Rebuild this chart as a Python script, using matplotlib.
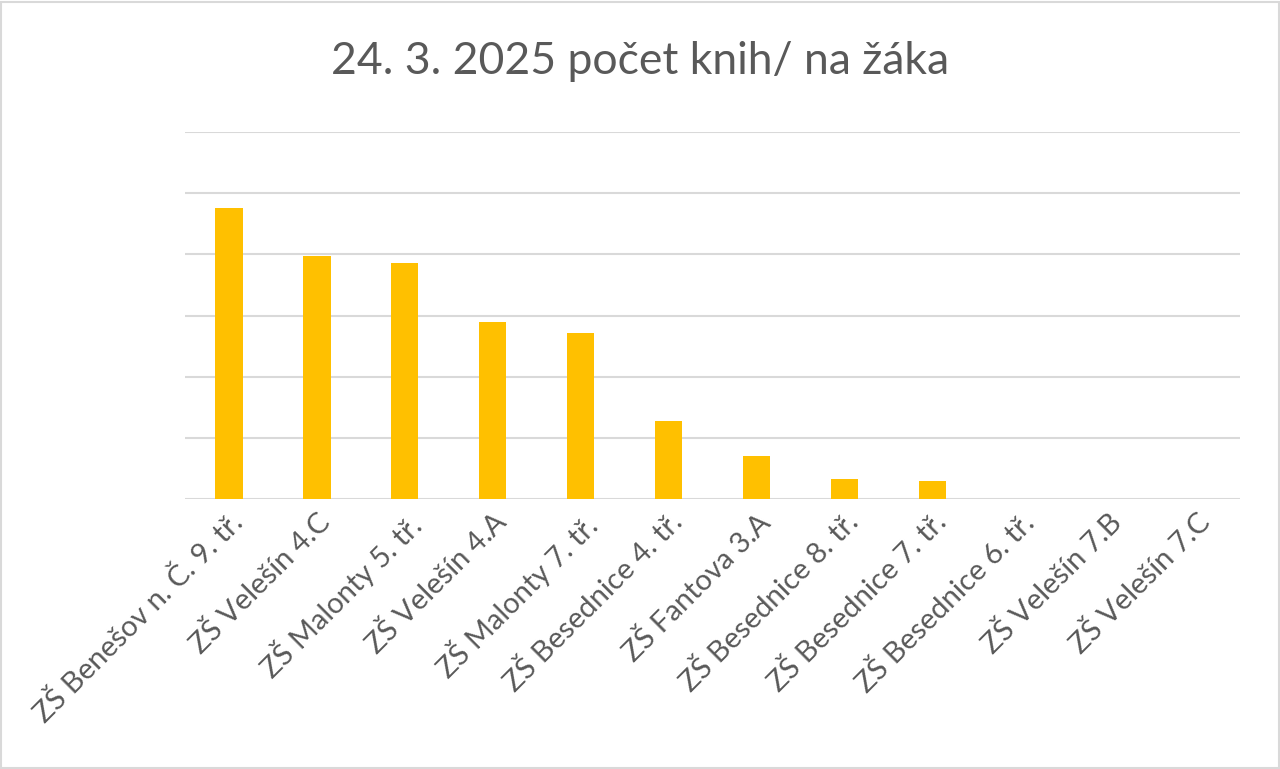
import matplotlib.pyplot as plt
from matplotlib.patches import Rectangle

# data
skoly = ["ZŠ Benešov n. Č. 9. tř.", "ZŠ Velešín 4.C", "ZŠ Malonty 5. tř.",
         "ZŠ Velešín 4.A", "ZŠ Malonty 7. tř.", "ZŠ Besednice 4. tř.",
         "ZŠ Fantova 3.A", "ZŠ Besednice 8. tř.", "ZŠ Besednice 7. tř.",
         "ZŠ Besednice 6. tř.", "ZŠ Velešín 7.B", "ZŠ Velešín 7.C"]
knihy_na_zaka = [4.76, 3.98, 3.86, 2.90, 2.71, 1.28, 0.70, 0.33, 0.30, 0, 0, 0]
titulek = "24. 3. 2025 počet knih/ na žáka"

plt.rcParams['font.family'] = ['Lato', 'DejaVu Sans']
text_color = "#595959"
grid_color = "#d9d9d9"

fig = plt.figure(figsize=(12.8, 7.69), dpi=100)
ax = fig.add_axes([185 / 1280, 1 - 499 / 769, 1055 / 1280, 367 / 769])

x = range(len(skoly))
ax.bar(x, knihy_na_zaka, width=0.31, color="#ffc000", zorder=3)

ax.set_xlim(-0.5, len(skoly) - 0.5)
ax.set_ylim(0, 6)
ax.set_yticks(range(0, 7))
ax.set_yticklabels([])
ax.tick_params(axis='y', length=0)
ax.tick_params(axis='x', length=0, pad=7)
ax.grid(axis='y', color=grid_color, linewidth=1.5, zorder=0)
for s in ax.spines.values():
    s.set_visible(False)

ax.set_xticks(list(x))
ax.set_xticklabels(skoly, rotation=45, ha='right', rotation_mode='anchor',
                   fontsize=21, color=text_color)

fig.text(0.5, 1 - 62 / 769, titulek, ha='center', va='center',
         fontsize=32, color=text_color)

# outer chart border
fig.patches.append(Rectangle((0.001, 0.001), 0.998, 0.997, transform=fig.transFigure,
                             fill=False, edgecolor=grid_color, linewidth=1.5))

fig.savefig("out.png", dpi=100)
